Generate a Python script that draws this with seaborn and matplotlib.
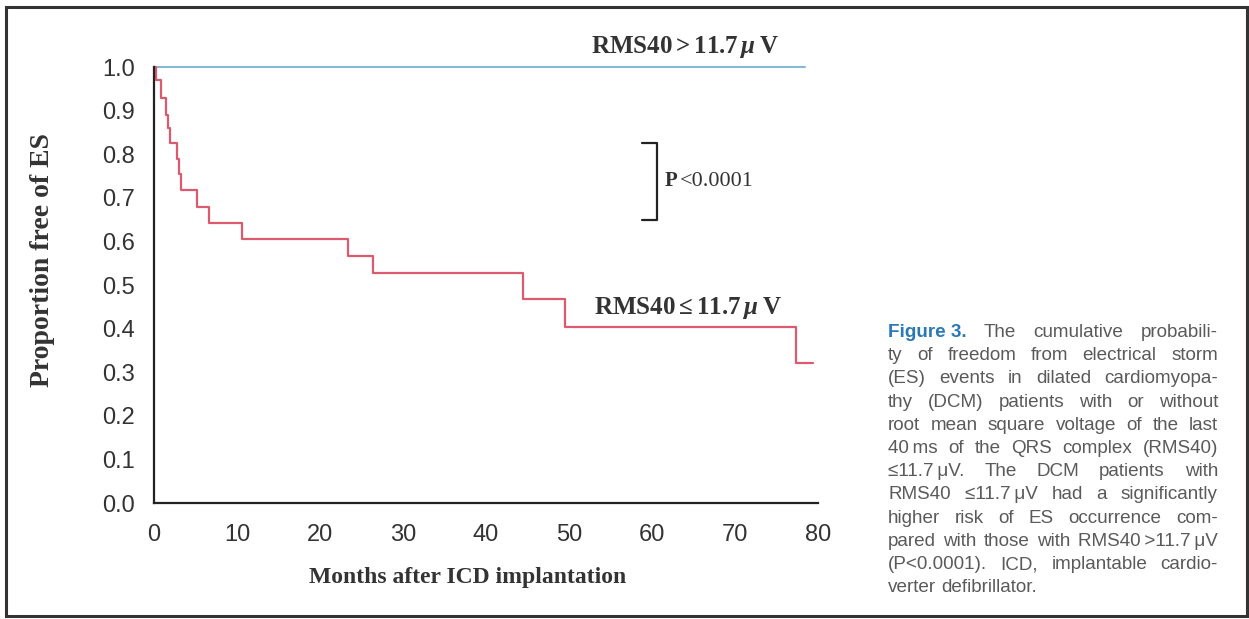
import matplotlib
matplotlib.use("Agg")
import matplotlib.pyplot as plt
import seaborn as sns
import pandas as pd
from matplotlib.ticker import MultipleLocator
from matplotlib.patches import Rectangle

# ---------------- data ----------------
low_months = [0, 0.2, 0.8, 1.4, 1.7, 1.9, 2.8, 3.0, 3.3, 5.2, 6.6, 10.6,
              23.4, 26.4, 44.5, 49.5, 77.4, 79.4]
low_surv = [1.0, 0.97, 0.928, 0.89, 0.86, 0.826, 0.79, 0.755, 0.718, 0.68,
            0.643, 0.605, 0.567, 0.528, 0.469, 0.403, 0.322, 0.322]
high_months = [0, 78.4]
high_surv = [1.0, 1.0]

x_ticks = [0, 10, 20, 30, 40, 50, 60, 70, 80]
y_ticks = [0.0, 0.1, 0.2, 0.3, 0.4, 0.5, 0.6, 0.7, 0.8, 0.9, 1.0]

label_high = r"$\mathrm{RMS40}>\mathrm{11.7}\,\mu\;\mathrm{V}$"
label_low = r"$\mathrm{RMS40}\leq\mathrm{11.7}\,\mu\;\mathrm{V}$"
p_label = "<0.0001"

caption_lines = [
    [("Figure 3.", "fig"), ("The", ""), ("cumulative", ""), ("probabili-", "")],
    "ty of freedom from electrical storm",
    "(ES) events in dilated cardiomyopa-",
    "thy (DCM) patients with or without",
    "root mean square voltage of the last",
    "40\u2009ms of the QRS complex (RMS40)",
    "\u226411.7\u2009\u03bcV. The DCM patients with",
    "RMS40 \u226411.7\u2009\u03bcV had a significantly",
    "higher risk of ES occurrence com-",
    "pared with those with RMS40\u2009>11.7\u2009\u03bcV",
    "(P<0.0001). ICD, implantable cardio-",
    "verter defibrillator.",
]

# ---------------- style ----------------
sns.set_theme(style="white")
plt.rcParams["font.family"] = ["Liberation Sans", "DejaVu Sans"]
plt.rcParams["mathtext.fontset"] = "custom"
plt.rcParams["mathtext.rm"] = "Liberation Serif:bold"
plt.rcParams["mathtext.bf"] = "Liberation Serif:bold"
plt.rcParams["mathtext.it"] = "Liberation Serif:italic:bold"

W, H = 1249, 619
fig = plt.figure(figsize=(W / 100, H / 100), dpi=100)
fig.patch.set_facecolor("white")

ax_left, ax_right, ax_top, ax_bottom = 154, 818, 67, 503
ax = fig.add_axes([ax_left / W, 1 - ax_bottom / H,
                   (ax_right - ax_left) / W, (ax_bottom - ax_top) / H])
ax.set_facecolor("white")

red = "#dc5a6e"
blue = "#86b8d8"

df_low = pd.DataFrame({"month": low_months, "surv": low_surv})
df_high = pd.DataFrame({"month": high_months, "surv": high_surv})
sns.lineplot(data=df_high, x="month", y="surv", ax=ax, color=blue, lw=1.5,
             drawstyle="steps-post", estimator=None, clip_on=False)
sns.lineplot(data=df_low, x="month", y="surv", ax=ax, color=red, lw=1.6,
             drawstyle="steps-post", estimator=None, clip_on=False)

ax.set_xlim(0, 80)
ax.set_ylim(0, 1.0)
ax.set_xticks(x_ticks)
ax.set_xticklabels([str(v) for v in x_ticks])
ax.set_yticks(y_ticks)
ax.set_yticklabels([f"{v:.1f}" for v in y_ticks])
ax.xaxis.set_minor_locator(MultipleLocator(5))
for s in ["top", "right"]:
    ax.spines[s].set_visible(False)
for s in ["left", "bottom"]:
    ax.spines[s].set_color("#222222")
    ax.spines[s].set_linewidth(1.6)
ax.tick_params(axis="both", which="major", direction="out", length=8,
               width=1.5, color="#222222", labelsize=17, labelcolor="#333333")
ax.tick_params(axis="y", pad=6)
ax.tick_params(axis="x", pad=5, length=10)
ax.tick_params(axis="x", which="minor", direction="out", length=5,
               width=1.3, color="#222222")

ax.set_xlabel("Months after ICD implantation", family="Liberation Serif",
              fontweight="bold", fontsize=17, color="#333333")
ax.xaxis.set_label_coords((468 - ax_left) / (ax_right - ax_left),
                          (ax_bottom - 578) / (ax_bottom - ax_top))
ax.xaxis.label.set_va("center")
ax.set_ylabel("Proportion free of ES", family="Liberation Serif",
              fontweight="bold", fontsize=20, color="#333333")
ax.yaxis.set_label_coords((42 - ax_left) / (ax_right - ax_left),
                          (ax_bottom - 260) / (ax_bottom - ax_top))
ax.yaxis.label.set_va("center")

# curve labels
ax.text(64.0, 1.045, label_high, fontsize=18, color="#333333",
        ha="center", va="center")
ax.text(64.3, 0.447, label_low, fontsize=18, color="#333333",
        ha="center", va="center")

# p-value bracket
br_x0, br_x1, br_top, br_bot = 58.8, 60.6, 0.826, 0.649
ax.plot([br_x0, br_x1, br_x1, br_x0], [br_top, br_top, br_bot, br_bot],
        color="#222222", lw=1.6, clip_on=False)
ax.text(61.5, 0.738, "P", family="Liberation Serif", fontweight="bold",
        fontsize=15, color="#333333", ha="left", va="center")
ax.text(63.3, 0.738, p_label, family="Liberation Serif",
        fontsize=16, color="#333333", ha="left", va="center")

# frame around the figure
fig.patches.append(Rectangle((6 / W, 1 - 616 / H), (1247 - 6) / W, (616 - 7) / H,
                             transform=fig.transFigure, fill=False,
                             edgecolor="#333333", lw=2.2))

# justified caption
fig.canvas.draw()
renderer = fig.canvas.get_renderer()
cx0, cx1 = 888, 1218
base0, step = 337.0, 23.2
cap_color = "#5a5a5a"
cap_size = 13.6


def make_text(x, y, s, kind):
    kw = dict(fontsize=cap_size, color=cap_color, ha="left", va="baseline",
              family=["Liberation Sans", "DejaVu Sans"])
    if kind == "fig":
        kw.update(color="#2a78b8", fontweight="bold")
    return fig.text(x / W, 1 - y / H, s, **kw)


for i, line in enumerate(caption_lines):
    y = base0 + i * step
    if isinstance(line, str):
        tokens = [(w, "") for w in line.split(" ")]
    else:
        tokens = line
    texts = [make_text(0, y, t, k) for t, k in tokens]
    widths = [t.get_window_extent(renderer).width for t in texts]
    last = i == len(caption_lines) - 1
    if last or len(texts) == 1:
        gap = 5.0
    else:
        gap = (cx1 - cx0 - sum(widths)) / (len(texts) - 1)
    x = cx0
    for t, w in zip(texts, widths):
        t.set_x(x / W)
        x += w + gap

fig.savefig("out.png", dpi=100, facecolor="white")
